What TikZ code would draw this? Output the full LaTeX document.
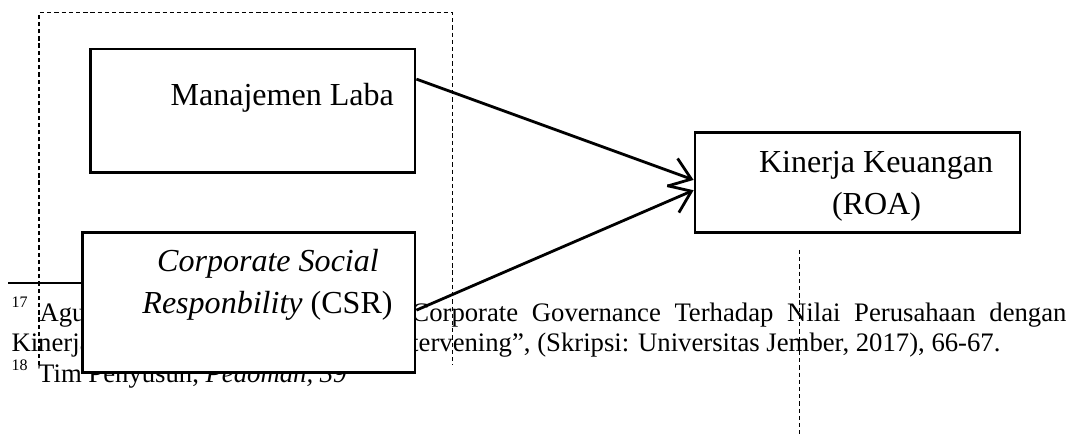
\documentclass[tikz,border=0pt]{standalone}
\usepackage{fontspec}
\setmainfont{Liberation Serif}
\usetikzlibrary{arrows.meta,calc}
\newdimen\pxu \pxu=0.3745pt
\begin{document}
\begin{tikzpicture}[x=0.3745pt,y=-0.3745pt,
  box/.style={draw,line width=1.05pt,fill=white,rectangle,inner sep=0pt},
  boxtext/.style={font=\fontsize{12}{14}\selectfont,inner sep=0pt},
  fn/.style={font=\fontsize{10}{12}\selectfont,inner sep=0pt,anchor=base west},
  fnsup/.style={font=\fontsize{6}{7}\selectfont,inner sep=0pt,anchor=base west},
  guide/.style={line width=0.45pt,dash pattern=on 1.6pt off 1.1pt},
  link/.style={line width=1.05pt,-{Straight Barb[length=7.5pt,width=11pt]}}]
\useasboundingbox (0,0) rectangle (1076,434);

% footnote area
\draw[line width=0.7pt] (8.3,283.3) -- (250,283.3);
\node[fnsup] (s17) at (11,307.5) {17};
\node[fn] (f1a) at (39,321.7) {Agu};
\node[fn,anchor=base east] (f1b) at (1067,321.7) {\makebox[655\pxu][s]{Corporate Governance Terhadap Nilai Perusahaan dengan}};
\node[fn] (f2a) at (11,351.7) {Kinerja};
\node[fn,anchor=base east] (f2b) at (1001,351.7) {tervening”, (Skripsi: Universitas Jember, 2017), 66-67.};
\node[fnsup] (s18) at (11,370.5) {18};
\node[fn] (f3) at (37.7,382.3) {Tim Penyusun, \textit{Pedoman, 39}};

% dashed guides
\draw[guide] (39,365) -- (39,12.7) -- (452.7,12.7) -- (452.7,365);
\draw[guide] (799.5,250) -- (799.5,434);

% boxes
\node[box,minimum width=324.3\pxu,minimum height=123.3\pxu] (ml) at (252.85,110.65) {};
\node[box,minimum width=325\pxu,minimum height=100.4\pxu] (kk) at (857.5,182.5) {};
\node[box,minimum width=332.7\pxu,minimum height=140\pxu] (csr) at (248.65,302.3) {};

% box texts
\node[boxtext,anchor=base west] (tml) at (170,106) {Manajemen Laba};
\node[boxtext,anchor=base] (tkk1) at (876,172.7) {Kinerja Keuangan};
\node[boxtext,anchor=base] (tkk2) at (876.5,215) {(ROA)};
\node[boxtext,anchor=base] (tc1) at (268,271.7) {\textit{Corporate Social}};
\node[boxtext,anchor=base] (tc2) at (267.5,313.3) {\textit{Responbility} (CSR)};

% connectors
\draw[link] ($(ml.north east)!0.25!(ml.south east)$) -- ($(kk.north west)!0.475!(kk.south west)$);
\draw[link] ($(csr.north east)!0.555!(csr.south east)$) -- ($(kk.north west)!0.575!(kk.south west)$);
\end{tikzpicture}
\end{document}
